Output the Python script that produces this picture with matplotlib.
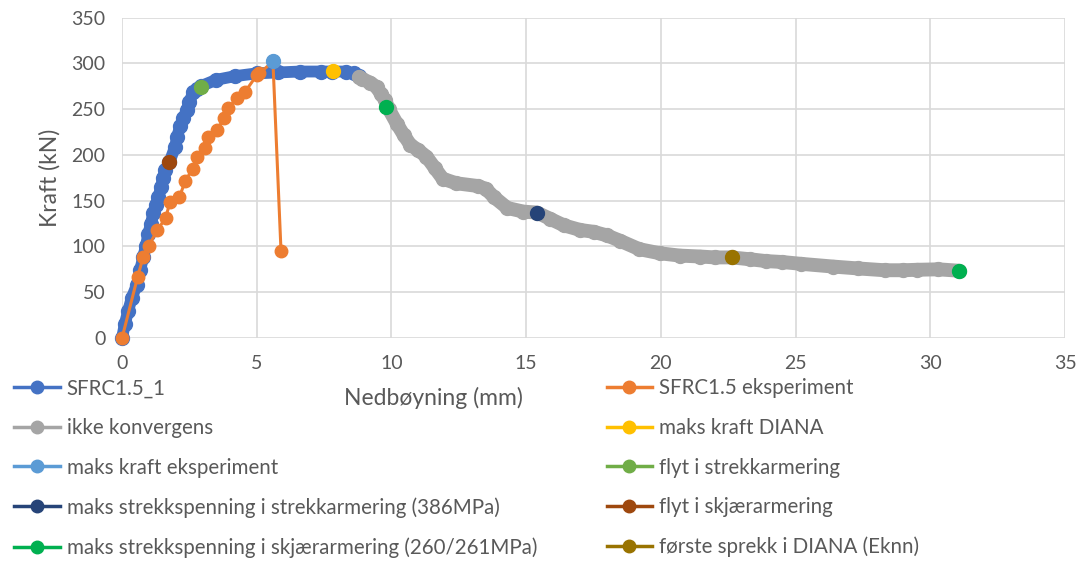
import matplotlib
matplotlib.use('Agg')
import matplotlib.pyplot as plt
from matplotlib.lines import Line2D

plt.rcParams['font.family'] = ['Lato', 'DejaVu Sans']

# SFRC1.5_1 (DIANA) - deflection (mm) / force (kN)
blue_x = [0, 0.1, 0.23, 0.36, 0.55, 0.67, 0.79, 0.88, 0.98, 1.07, 1.16, 1.25, 1.35, 1.45,
          1.52, 1.6, 1.76, 1.97, 2.05, 2.15, 2.28, 2.4, 2.5, 2.65, 2.78, 2.92, 3.5, 4.2,
          5.0, 5.8, 6.6, 7.4, 7.8, 8.3, 8.6, 8.8]
blue_y = [0, 15, 30, 44, 58, 74, 89, 100, 114, 125, 136, 145, 154, 165,
          175, 183, 192, 209, 220, 231, 240, 249, 258, 269, 272, 275, 282, 286,
          289, 290, 291, 291, 291, 291, 289, 286]

# SFRC1.5 eksperiment
orange_x = [0, 0.58, 0.79, 1.0, 1.31, 1.62, 1.78, 2.13, 2.34, 2.62, 2.77, 3.08, 3.2,
            3.52, 3.79, 3.95, 4.26, 4.57, 5.0, 5.1, 5.6, 5.9]
orange_y = [0, 67, 89, 101, 118, 131, 149, 154, 171, 185, 198, 207, 220,
            227, 240, 251, 262, 269, 287, 289, 302, 95]

# ikke konvergens
gray_x = [8.8, 8.9, 9.2, 9.45, 9.6, 9.76, 9.9, 10.2, 10.45, 10.7, 11.0, 11.3, 11.6, 11.9,
          12.4, 13.2, 13.5, 13.8, 14.3, 14.9, 15.4, 15.9, 16.4, 17.0, 17.5, 18.0, 18.5,
          19.2, 19.97, 20.7, 21.45, 22.0, 22.63, 23.3, 23.9, 24.5, 25.2, 26.4, 27.3,
          28.3, 29.0, 29.5, 30.3, 31.05]
gray_y = [285, 283, 279, 274, 267, 260, 250, 234, 222, 211, 205, 198, 186, 174,
          169, 166, 163, 154, 142, 138, 137, 130, 123, 118, 116, 112, 106,
          97, 92.5, 90, 89, 88, 88, 86, 84, 83, 81, 78, 76,
          74, 74, 74.5, 75, 73.5]

# single marker series: label, x, y, colour
points = [
    ('maks kraft DIANA', [7.82], [291.5], '#FFC000'),
    ('maks kraft eksperiment', [5.59], [302], '#5B9BD5'),
    ('flyt i strekkarmering', [2.92], [274], '#70AD47'),
    ('maks strekkspenning i strekkarmering (386MPa)', [15.4], [137], '#264478'),
    ('flyt i skjærarmering', [1.76], [192.5], '#9E480E'),
    ('maks strekkspenning i skjærarmering (260/261MPa)', [9.79, 31.05], [252.5, 73.5], '#00B050'),
    ('første sprekk i DIANA (Eknn)', [22.63], [88], '#997300'),
]

fig = plt.figure(figsize=(10.83, 5.61), dpi=100)
ax = fig.add_axes([0.1127, 0.3975, 0.8707, 0.5713])

ax.plot(blue_x, blue_y, color='#4472C4', lw=8.5, marker='o', ms=10,
        solid_capstyle='round', solid_joinstyle='round', clip_on=False, zorder=3)
ax.plot(orange_x, orange_y, color='#ED7D31', lw=2.2, marker='o', ms=9,
        clip_on=False, zorder=4)
ax.plot(gray_x, gray_y, color='#A5A5A5', lw=10, marker='o', ms=10,
        solid_capstyle='round', solid_joinstyle='round', zorder=5)
for label, px, py, c in points:
    ax.plot(px, py, ls='none', marker='o', ms=10, color=c, zorder=6)

ax.set_xlim(0, 35)
ax.set_ylim(0, 350)
ax.set_xticks(range(0, 36, 5))
ax.set_yticks(range(0, 351, 50))
ax.grid(True, color='#D9D9D9', lw=1.2)
ax.set_axisbelow(True)
for s in ax.spines.values():
    s.set_visible(False)
ax.tick_params(length=0, labelsize=14, colors='#595959', pad=12)

ax.set_ylabel('Kraft (kN)', fontsize=16.5, color='#595959', labelpad=8)
fig.text(0.40, 0.29, 'Nedbøyning (mm)', fontsize=16.5, color='#595959', ha='center', va='center')

def handle(c):
    return Line2D([], [], color=c, lw=2.5, marker='o', ms=9)

col1 = [('SFRC1.5_1', '#4472C4'), ('ikke konvergens', '#A5A5A5'),
        ('maks kraft eksperiment', '#5B9BD5'),
        ('maks strekkspenning i strekkarmering (386MPa)', '#264478'),
        ('maks strekkspenning i skjærarmering (260/261MPa)', '#00B050')]
col2 = [('SFRC1.5 eksperiment', '#ED7D31'), ('maks kraft DIANA', '#FFC000'),
        ('flyt i strekkarmering', '#70AD47'), ('flyt i skjærarmering', '#9E480E'),
        ('første sprekk i DIANA (Eknn)', '#997300')]

for entries, x0 in [(col1, 0.0), (col2, 0.547)]:
    fig.legend([handle(c) for _, c in entries], [t for t, _ in entries],
               loc='upper left', bbox_to_anchor=(x0, 0.351), frameon=False,
               fontsize=14.8, labelcolor='#595959', handlelength=2.2,
               handletextpad=0.35, labelspacing=0.95, borderpad=0.2)

fig.savefig('out.png', dpi=100)
